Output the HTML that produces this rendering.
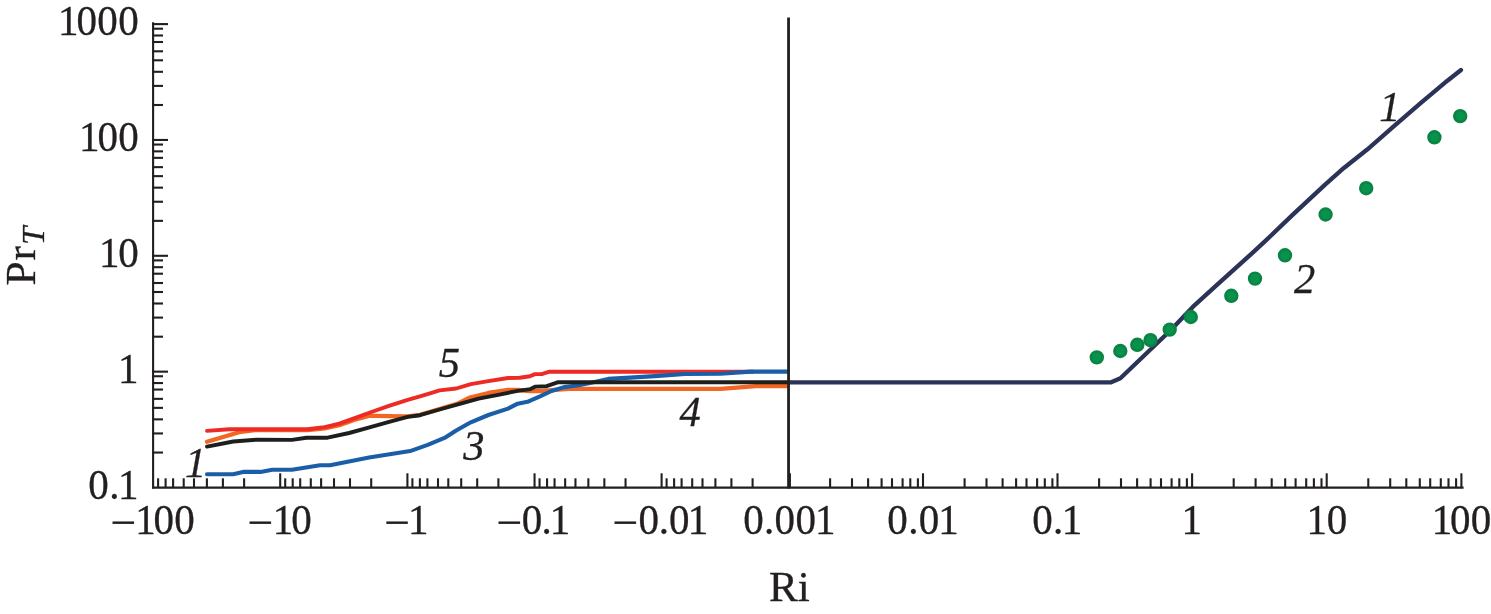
<!DOCTYPE html>
<html lang="en"><head><meta charset="utf-8"><title>Pr_T vs Ri</title>
<style>
html,body{margin:0;padding:0;background:#fff;}
body{width:1491px;height:614px;overflow:hidden;}
svg{display:block;}
text{font-family:"Liberation Serif","Times New Roman",Times,serif;fill:#231f20;stroke:#231f20;stroke-width:0.3px;}
.n{font-size:41px;}
.m{font-size:45.5px;}
.i{font-size:42.5px;font-style:italic;}
.ln{fill:none;stroke-width:3.9;stroke-linecap:round;stroke-linejoin:round;}
</style></head><body>
<svg width="1491" height="614" viewBox="0 0 1491 614">
<rect x="0" y="0" width="1491" height="614" fill="#ffffff"/>
<polyline class="ln" stroke="#f26522" points="207.0,441.7 239.1,432.2 254.7,430.2 307.5,430.0 320.0,428.9 324.7,428.4 339.3,425.2 354.0,420.0 368.6,415.9 376.5,415.8 402.8,416.3 407.7,416.4 420.0,414.8 439.5,409.1 457.1,403.8 468.9,397.9 488.4,393.0 508.0,390.0 517.7,390.0 530.0,391.0 543.0,391.0 555.0,389.8 569.0,388.9 720.5,388.9 755.7,386.2 787.5,386.2" style="stroke-width:4.3"/>
<polyline class="ln" stroke="#ed2a24" points="207.0,430.9 229.3,429.3 307.5,429.3 320.0,427.7 324.7,427.1 339.3,423.7 354.0,418.3 368.6,413.0 388.2,406.1 407.7,399.8 420.0,396.3 430.0,393.3 439.5,390.4 456.2,388.5 470.8,384.1 488.4,381.1 508.0,378.0 519.7,377.7 530.0,376.2 534.9,374.1 541.7,374.1 549.5,371.7 753.0,371.7"/>
<polyline class="ln" stroke="#1a5ea8" points="207.0,474.2 233.2,474.2 243.0,471.9 260.6,471.9 272.3,469.7 291.9,469.7 320.0,465.2 330.0,465.3 369.1,457.6 410.1,451.1 427.7,444.9 445.7,437.3 456.2,430.5 470.8,422.3 488.4,415.0 508.0,408.6 517.7,403.7 527.5,401.8 540.0,396.4 551.5,391.0 564.2,387.1 578.9,385.2 593.5,382.2 608.2,378.9 630.2,377.6 658.4,375.9 685.0,374.0 720.5,373.8 750.7,371.6 787.5,371.6" style="stroke-width:4.1"/>
<polyline class="ln" stroke="#1d1f1c" points="207.0,446.6 233.2,441.5 256.7,439.7 291.9,439.9 306.5,437.8 327.6,437.7 349.1,433.0 368.6,427.6 388.2,422.2 407.7,416.9 420.0,415.2 439.5,409.5 457.1,404.6 478.6,398.7 498.2,394.8 517.7,390.9 530.4,389.1 535.6,386.6 546.6,386.2 558.3,382.2 787.5,382.2"/>
<polyline class="ln" stroke="#2c3358" points="789.5,382.4 1110.6,382.4 1120.4,378.2 1143.7,356.0 1170.6,330.3 1174.9,325.8 1192.8,306.9 1218.9,283.1 1251.4,253.8 1266.5,239.9 1292.6,214.9 1325.1,184.6 1343.6,168.2 1366.9,149.8 1393.7,126.4 1420.6,103.2 1447.4,80.7 1461.0,70.0" style="stroke-width:4.3"/>
<g fill="#07934f" stroke="#0b8442" stroke-width="2.6">
<circle cx="1096.8" cy="357.4" r="5.9"/>
<circle cx="1120.3" cy="351.0" r="5.9"/>
<circle cx="1137.3" cy="344.8" r="5.9"/>
<circle cx="1150.5" cy="340.2" r="5.9"/>
<circle cx="1169.7" cy="329.6" r="5.9"/>
<circle cx="1190.8" cy="317.0" r="5.9"/>
<circle cx="1231.3" cy="295.8" r="5.9"/>
<circle cx="1255.0" cy="278.6" r="5.9"/>
<circle cx="1285.0" cy="255.3" r="5.9"/>
<circle cx="1325.6" cy="214.5" r="5.9"/>
<circle cx="1366.2" cy="188.2" r="5.9"/>
<circle cx="1434.4" cy="137.3" r="5.9"/>
<circle cx="1460.2" cy="116.1" r="5.9"/>
</g>
<g stroke="#231f20" stroke-width="2.1" fill="none" stroke-linecap="butt">
<line x1="153.1" y1="22.3" x2="153.1" y2="488.6"/>
<line x1="152.1" y1="487.6" x2="1463.6" y2="487.6"/>
<line x1="152.1" y1="24.10" x2="168" y2="24.10"/>
<line x1="152.1" y1="28.70" x2="163" y2="28.70"/>
<line x1="152.1" y1="35.50" x2="163" y2="35.50"/>
<line x1="152.1" y1="42.00" x2="163" y2="42.00"/>
<line x1="152.1" y1="51.30" x2="163" y2="51.30"/>
<line x1="152.1" y1="60.30" x2="163" y2="60.30"/>
<line x1="152.1" y1="71.80" x2="163" y2="71.80"/>
<line x1="152.1" y1="85.90" x2="163" y2="85.90"/>
<line x1="152.1" y1="105.00" x2="163" y2="105.00"/>
<line x1="152.1" y1="139.95" x2="168" y2="139.95"/>
<line x1="152.1" y1="144.55" x2="163" y2="144.55"/>
<line x1="152.1" y1="151.35" x2="163" y2="151.35"/>
<line x1="152.1" y1="157.85" x2="163" y2="157.85"/>
<line x1="152.1" y1="167.15" x2="163" y2="167.15"/>
<line x1="152.1" y1="176.15" x2="163" y2="176.15"/>
<line x1="152.1" y1="187.65" x2="163" y2="187.65"/>
<line x1="152.1" y1="201.75" x2="163" y2="201.75"/>
<line x1="152.1" y1="220.85" x2="163" y2="220.85"/>
<line x1="152.1" y1="255.80" x2="168" y2="255.80"/>
<line x1="152.1" y1="260.40" x2="163" y2="260.40"/>
<line x1="152.1" y1="267.20" x2="163" y2="267.20"/>
<line x1="152.1" y1="273.70" x2="163" y2="273.70"/>
<line x1="152.1" y1="283.00" x2="163" y2="283.00"/>
<line x1="152.1" y1="292.00" x2="163" y2="292.00"/>
<line x1="152.1" y1="303.50" x2="163" y2="303.50"/>
<line x1="152.1" y1="317.60" x2="163" y2="317.60"/>
<line x1="152.1" y1="336.70" x2="163" y2="336.70"/>
<line x1="152.1" y1="371.65" x2="168" y2="371.65"/>
<line x1="152.1" y1="376.25" x2="163" y2="376.25"/>
<line x1="152.1" y1="383.05" x2="163" y2="383.05"/>
<line x1="152.1" y1="389.55" x2="163" y2="389.55"/>
<line x1="152.1" y1="398.85" x2="163" y2="398.85"/>
<line x1="152.1" y1="407.85" x2="163" y2="407.85"/>
<line x1="152.1" y1="419.35" x2="163" y2="419.35"/>
<line x1="152.1" y1="433.45" x2="163" y2="433.45"/>
<line x1="152.1" y1="452.55" x2="163" y2="452.55"/>
<line x1="158.10" y1="478.3" x2="158.10" y2="487.6"/>
<line x1="165.60" y1="478.3" x2="165.60" y2="487.6"/>
<line x1="173.10" y1="478.3" x2="173.10" y2="487.6"/>
<line x1="183.70" y1="478.3" x2="183.70" y2="487.6"/>
<line x1="194.00" y1="478.3" x2="194.00" y2="487.6"/>
<line x1="206.90" y1="478.3" x2="206.90" y2="487.6"/>
<line x1="222.90" y1="478.3" x2="222.90" y2="487.6"/>
<line x1="244.10" y1="478.3" x2="244.10" y2="487.6"/>
<line x1="280.20" y1="473.3" x2="280.20" y2="487.6"/>
<line x1="285.20" y1="478.3" x2="285.20" y2="487.6"/>
<line x1="292.70" y1="478.3" x2="292.70" y2="487.6"/>
<line x1="300.20" y1="478.3" x2="300.20" y2="487.6"/>
<line x1="310.80" y1="478.3" x2="310.80" y2="487.6"/>
<line x1="321.10" y1="478.3" x2="321.10" y2="487.6"/>
<line x1="334.00" y1="478.3" x2="334.00" y2="487.6"/>
<line x1="350.00" y1="478.3" x2="350.00" y2="487.6"/>
<line x1="371.20" y1="478.3" x2="371.20" y2="487.6"/>
<line x1="407.40" y1="473.3" x2="407.40" y2="487.6"/>
<line x1="412.40" y1="478.3" x2="412.40" y2="487.6"/>
<line x1="419.90" y1="478.3" x2="419.90" y2="487.6"/>
<line x1="427.40" y1="478.3" x2="427.40" y2="487.6"/>
<line x1="438.00" y1="478.3" x2="438.00" y2="487.6"/>
<line x1="448.30" y1="478.3" x2="448.30" y2="487.6"/>
<line x1="461.20" y1="478.3" x2="461.20" y2="487.6"/>
<line x1="477.20" y1="478.3" x2="477.20" y2="487.6"/>
<line x1="498.40" y1="478.3" x2="498.40" y2="487.6"/>
<line x1="534.55" y1="473.3" x2="534.55" y2="487.6"/>
<line x1="539.55" y1="478.3" x2="539.55" y2="487.6"/>
<line x1="547.05" y1="478.3" x2="547.05" y2="487.6"/>
<line x1="554.55" y1="478.3" x2="554.55" y2="487.6"/>
<line x1="565.15" y1="478.3" x2="565.15" y2="487.6"/>
<line x1="575.45" y1="478.3" x2="575.45" y2="487.6"/>
<line x1="588.35" y1="478.3" x2="588.35" y2="487.6"/>
<line x1="604.35" y1="478.3" x2="604.35" y2="487.6"/>
<line x1="625.55" y1="478.3" x2="625.55" y2="487.6"/>
<line x1="661.60" y1="473.3" x2="661.60" y2="487.6"/>
<line x1="666.60" y1="478.3" x2="666.60" y2="487.6"/>
<line x1="674.10" y1="478.3" x2="674.10" y2="487.6"/>
<line x1="681.60" y1="478.3" x2="681.60" y2="487.6"/>
<line x1="692.20" y1="478.3" x2="692.20" y2="487.6"/>
<line x1="702.50" y1="478.3" x2="702.50" y2="487.6"/>
<line x1="715.40" y1="478.3" x2="715.40" y2="487.6"/>
<line x1="731.40" y1="478.3" x2="731.40" y2="487.6"/>
<line x1="752.60" y1="478.3" x2="752.60" y2="487.6"/>
<line x1="789.9" y1="473.3" x2="789.9" y2="487.6"/>
<line x1="830.10" y1="478.3" x2="830.10" y2="487.6"/>
<line x1="852.00" y1="478.3" x2="852.00" y2="487.6"/>
<line x1="868.10" y1="478.3" x2="868.10" y2="487.6"/>
<line x1="881.60" y1="478.3" x2="881.60" y2="487.6"/>
<line x1="892.00" y1="478.3" x2="892.00" y2="487.6"/>
<line x1="902.60" y1="478.3" x2="902.60" y2="487.6"/>
<line x1="910.30" y1="478.3" x2="910.30" y2="487.6"/>
<line x1="917.90" y1="478.3" x2="917.90" y2="487.6"/>
<line x1="964.60" y1="478.3" x2="964.60" y2="487.6"/>
<line x1="986.50" y1="478.3" x2="986.50" y2="487.6"/>
<line x1="1002.60" y1="478.3" x2="1002.60" y2="487.6"/>
<line x1="1016.10" y1="478.3" x2="1016.10" y2="487.6"/>
<line x1="1026.50" y1="478.3" x2="1026.50" y2="487.6"/>
<line x1="1037.10" y1="478.3" x2="1037.10" y2="487.6"/>
<line x1="1044.80" y1="478.3" x2="1044.80" y2="487.6"/>
<line x1="1052.40" y1="478.3" x2="1052.40" y2="487.6"/>
<line x1="1099.10" y1="478.3" x2="1099.10" y2="487.6"/>
<line x1="1121.00" y1="478.3" x2="1121.00" y2="487.6"/>
<line x1="1137.10" y1="478.3" x2="1137.10" y2="487.6"/>
<line x1="1150.60" y1="478.3" x2="1150.60" y2="487.6"/>
<line x1="1161.00" y1="478.3" x2="1161.00" y2="487.6"/>
<line x1="1171.60" y1="478.3" x2="1171.60" y2="487.6"/>
<line x1="1179.30" y1="478.3" x2="1179.30" y2="487.6"/>
<line x1="1186.90" y1="478.3" x2="1186.90" y2="487.6"/>
<line x1="1233.70" y1="478.3" x2="1233.70" y2="487.6"/>
<line x1="1255.60" y1="478.3" x2="1255.60" y2="487.6"/>
<line x1="1271.70" y1="478.3" x2="1271.70" y2="487.6"/>
<line x1="1285.20" y1="478.3" x2="1285.20" y2="487.6"/>
<line x1="1295.60" y1="478.3" x2="1295.60" y2="487.6"/>
<line x1="1306.20" y1="478.3" x2="1306.20" y2="487.6"/>
<line x1="1313.90" y1="478.3" x2="1313.90" y2="487.6"/>
<line x1="1321.50" y1="478.3" x2="1321.50" y2="487.6"/>
<line x1="1368.30" y1="478.3" x2="1368.30" y2="487.6"/>
<line x1="1390.20" y1="478.3" x2="1390.20" y2="487.6"/>
<line x1="1406.30" y1="478.3" x2="1406.30" y2="487.6"/>
<line x1="1419.80" y1="478.3" x2="1419.80" y2="487.6"/>
<line x1="1430.20" y1="478.3" x2="1430.20" y2="487.6"/>
<line x1="1440.80" y1="478.3" x2="1440.80" y2="487.6"/>
<line x1="1448.50" y1="478.3" x2="1448.50" y2="487.6"/>
<line x1="1456.10" y1="478.3" x2="1456.10" y2="487.6"/>
<line x1="923.00" y1="473.3" x2="923.00" y2="487.6"/>
<line x1="1057.50" y1="473.3" x2="1057.50" y2="487.6"/>
<line x1="1192.10" y1="473.3" x2="1192.10" y2="487.6"/>
<line x1="1326.70" y1="473.3" x2="1326.70" y2="487.6"/>
<line x1="1461.40" y1="473.3" x2="1461.40" y2="487.6"/>
</g>
<line x1="788.55" y1="17.5" x2="788.55" y2="488.6" stroke="#231f20" stroke-width="2.8"/>
<text class="n" transform="translate(0,35.00) scale(1,1.024)" x="57.90 76.41 97.28 118.16">1000</text>
<text class="n" transform="translate(0,151.00) scale(1,1.024)" x="79.10 97.46 118.16">100</text>
<text class="n" transform="translate(0,267.00) scale(1,1.024)" x="99.00 118.16">10</text>
<text class="n" transform="translate(0,383.00) scale(1,1.024)" x="118.00">1</text>
<text class="n" transform="translate(0,499.00) scale(1,1.024)" x="88.34 109.18 118.00">0.1</text>
<text class="n" transform="translate(0,534.00) scale(1,1.024)" x="110.42 135.30 153.62 174.26"><tspan class="m" dy="4.2">−</tspan><tspan dy="-4.2">100</tspan></text>
<text class="n" transform="translate(0,534.00) scale(1,1.024)" x="247.52 272.80 291.36"><tspan class="m" dy="4.2">−</tspan><tspan dy="-4.2">10</tspan></text>
<text class="n" transform="translate(0,534.00) scale(1,1.024)" x="384.32 408.00"><tspan class="m" dy="4.2">−</tspan><tspan dy="-4.2">1</tspan></text>
<text class="n" transform="translate(0,534.00) scale(1,1.024)" x="496.42 521.72 541.44 549.70"><tspan class="m" dy="4.2">−</tspan><tspan dy="-4.2">0.1</tspan></text>
<text class="n" transform="translate(0,534.00) scale(1,1.024)" x="612.52 638.56 658.86 669.00 687.70"><tspan class="m" dy="4.2">−</tspan><tspan dy="-4.2">0.01</tspan></text>
<text class="n" transform="translate(0,534.00) scale(1,1.024)" x="743.14 764.13 774.62 795.61 815.00">0.001</text>
<text class="n" transform="translate(0,534.00) scale(1,1.024)" x="887.24 908.26 918.78 938.20">0.01</text>
<text class="n" transform="translate(0,534.00) scale(1,1.024)" x="1032.34 1053.05 1061.80">0.1</text>
<text class="n" transform="translate(0,534.00) scale(1,1.024)" x="1181.60">1</text>
<text class="n" transform="translate(0,534.00) scale(1,1.024)" x="1306.60 1326.66">10</text>
<text class="n" transform="translate(0,534.00) scale(1,1.024)" x="1431.70 1450.06 1470.76">100</text>
<text class="n" transform="translate(768.9,600.6) scale(1.055,1.015)">Ri</text>
<text class="n" transform="translate(34.7,285.6) rotate(-90) scale(1.06,1.015)">P<tspan dx="0.8">r</tspan><tspan dx="1.0" dy="9.1" style="font-size:31px;font-style:italic;">T</tspan></text>
<text class="i" transform="translate(185.00,476.60) scale(1,1.000)">1</text>
<text class="i" transform="translate(438.80,377.00) scale(1,1.000)">5</text>
<text class="i" transform="translate(463.30,459.50) scale(1,1.000)">3</text>
<text class="i" transform="translate(679.50,426.00) scale(1,1.000)">4</text>
<text class="i" transform="translate(1379.20,120.80) scale(1,1.000)">1</text>
<text class="i" transform="translate(1294.00,293.20) scale(1,1.000)">2</text>
</svg></body></html>
